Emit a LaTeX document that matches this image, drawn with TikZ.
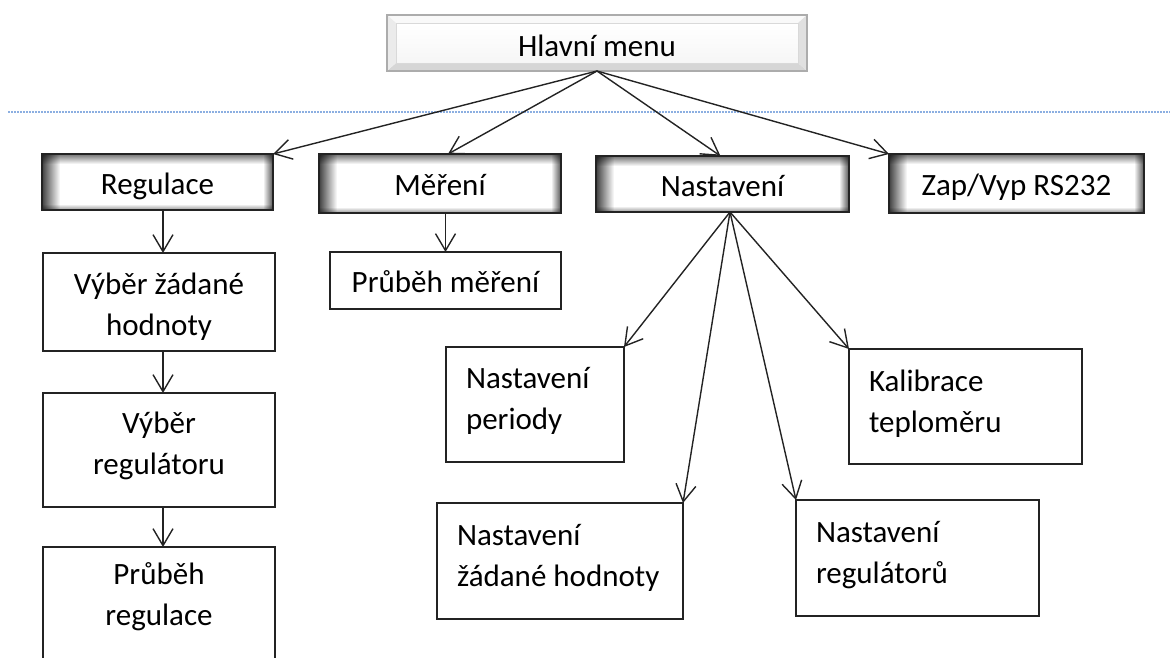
\documentclass[tikz,border=0pt]{standalone}
\usepackage{fontspec}
\setmainfont{Carlito}
\usetikzlibrary{arrows.meta,calc}

\definecolor{edge}{RGB}{35,35,35}
\definecolor{dotblue}{RGB}{140,175,225}

\newcommand{\wsp}{\hspace{0.226em}}

\tikzset{
  txt/.style={font=\fontsize{31}{41}\selectfont, text=black},
  arr/.style={draw=edge, line width=1.4pt,
    -{Straight Barb[length=17pt,width=20pt,line width=1.4pt]}},
  dotline/.style={draw=dotblue, line width=1.6pt, dash pattern=on 1.6pt off 1.4pt},
  % title boxes with a soft inner shadow
  tshade/.style={path picture={
    \coordinate (p1) at (path picture bounding box.north west);
    \coordinate (p2) at (path picture bounding box.north east);
    \coordinate (p3) at (path picture bounding box.south east);
    \coordinate (p4) at (path picture bounding box.south west);
    \foreach \k [evaluate=\k as \o using {0.55*(1-(\k-1)/10)}] in {1,...,10}
      \draw[black,opacity=\o,line width=1.05pt] ($(p1)+(0,\k-0.5)$) -- ($(p2)+(0,\k-0.5)$);
    \foreach \k [evaluate=\k as \o using {0.75*(1-(\k-1)/18)}] in {1,...,18}
      \draw[black,opacity=\o,line width=1.05pt] ($(p1)+(\k-0.5,0)$) -- ($(p4)+(\k-0.5,0)$);
    \foreach \k [evaluate=\k as \o using {0.6*(1-(\k-1)/9)}] in {1,...,9}
      \draw[black,opacity=\o,line width=1.05pt] ($(p2)+(-\k+0.5,0)$) -- ($(p3)+(-\k+0.5,0)$);
    \foreach \k [evaluate=\k as \o using {0.35*(1-(\k-1)/5)}] in {1,...,5}
      \draw[black,opacity=\o,line width=1.05pt] ($(p4)+(0,-\k+0.5)$) -- ($(p3)+(0,-\k+0.5)$);
  }},
  tbox/.style={txt, draw=edge, line width=1.8pt, fill=white, tshade,
    inner sep=0pt, outer sep=0pt, text height=27pt, text depth=3pt},
  pbox/.style={txt, draw=edge, line width=1.6pt, fill=white,
    inner sep=0pt, outer sep=0pt, text height=26pt, text depth=3pt},
  % main menu button with a bevelled frame
  hmbev/.style={path picture={
    \coordinate (q1) at (path picture bounding box.north west);
    \coordinate (q2) at (path picture bounding box.north east);
    \coordinate (q3) at (path picture bounding box.south east);
    \coordinate (q4) at (path picture bounding box.south west);
    \fill[gray!5]  (q1) -- (q2) -- ($(q2)+(-9,8)$) -- ($(q1)+(9,8)$) -- cycle;
    \fill[gray!32] (q4) -- (q3) -- ($(q3)+(-9,-8)$) -- ($(q4)+(9,-8)$) -- cycle;
    \fill[gray!16] (q1) -- (q4) -- ($(q4)+(9,-8)$) -- ($(q1)+(9,8)$) -- cycle;
    \fill[gray!24] (q2) -- (q3) -- ($(q3)+(-9,-8)$) -- ($(q2)+(-9,8)$) -- cycle;
    \shade[top color=white, bottom color=gray!7] ($(q1)+(9,8)$) rectangle ($(q3)+(-9,-8)$);
    \draw[gray!30, line width=0.8pt] ($(q1)+(9,8)$) rectangle ($(q3)+(-9,-8)$);
  }},
  hmbox/.style={txt, draw=gray!65, line width=1.5pt, fill=white, hmbev,
    inner sep=0pt, outer sep=0pt, text height=28pt, text depth=1pt},
  % plain boxes, text left aligned
  rbox/.style={txt, draw=edge, line width=1.4pt, fill=white, anchor=north west,
    inner xsep=20pt, inner ysep=0pt, outer sep=0pt, align=left},
  % plain boxes of the left column, text centred
  lbox/.style={txt, draw=edge, line width=1.4pt, fill=white, anchor=north west,
    inner xsep=10pt, inner ysep=0pt, outer sep=0pt, text width=212pt, align=center},
}

\begin{document}
\begin{tikzpicture}[x=1pt,y=-1pt]
\useasboundingbox (0,0) rectangle (1170,657);

% separator under the main menu
\draw[dotline] (8,112) -- (1170,112);

% main menu
\node[hmbox, minimum width=420pt, minimum height=56pt] (hm) at (597,43) {Hlavní menu};

% first level
\node[tbox, minimum width=231pt, minimum height=56pt] (reg) at (157.5,182) {Regulace};
\node[tbox, minimum width=242pt, minimum height=59pt] (mer) at (440,183.5) {Měření};
\node[tbox, minimum width=253pt, minimum height=56pt] (nas) at (722.5,184) {Nastavení};
\node[tbox, minimum width=255pt, minimum height=59pt] (zap) at (1016.5,183.5) {Zap/Vyp RS232};

% Regulace branch
\node[lbox, text height=41pt, text depth=57pt] (vz) at (43,253) {Výběr\wsp žádané\\hodnoty};
\node[lbox, text height=40pt, text depth=74pt] (vr) at (43,393) {Výběr\\regulátoru};
\node[lbox, text height=37pt, text depth=86pt] (pr) at (43,547) {Průběh\\regulace};

% Měření branch
\node[pbox, minimum width=231pt, minimum height=57pt] (pm) at (445.5,280.5) {Průběh\wsp měření};

% Nastavení branch
\node[rbox, text width=138pt, text height=41pt, text depth=74pt] (per) at (446,347) {Nastavení\\periody};
\node[rbox, text width=206pt, text height=42pt, text depth=74pt] (zad) at (437,503) {Nastavení\\\mbox{žádané\wsp hodnoty}};
\node[rbox, text width=193pt, text height=42pt, text depth=73pt] (kal) at (849,349) {Kalibrace\\teploměru};
\node[rbox, text width=203pt, text height=42pt, text depth=74pt] (nreg) at (796,500) {Nastavení\\regulátorů};

% connectors
\draw[arr] (hm.south) -- (reg.north east);
\draw[arr] (hm.south) -- ([xshift=8pt]mer.north);
\draw[arr] (hm.south) -- ([xshift=-2pt]nas.north);
\draw[arr] (hm.south) -- (zap.north west);

\coordinate (colx) at (163,0);
\draw[arr] (colx |- reg.south) -- (colx |- vz.north);
\draw[arr] (colx |- vz.south) -- (colx |- vr.north);
\draw[arr] (colx |- vr.south) -- (colx |- pr.north);

\draw[arr] (pm.north |- mer.south) -- (pm.north);

\coordinate (nsrc) at ([xshift=7.5pt]nas.south);
\draw[arr] (nsrc) -- (per.north east);
\draw[arr] (nsrc) -- (zad.north east);
\draw[arr] (nsrc) -- (nreg.north west);
\draw[arr] (nsrc) -- (kal.north west);
\end{tikzpicture}
\end{document}
